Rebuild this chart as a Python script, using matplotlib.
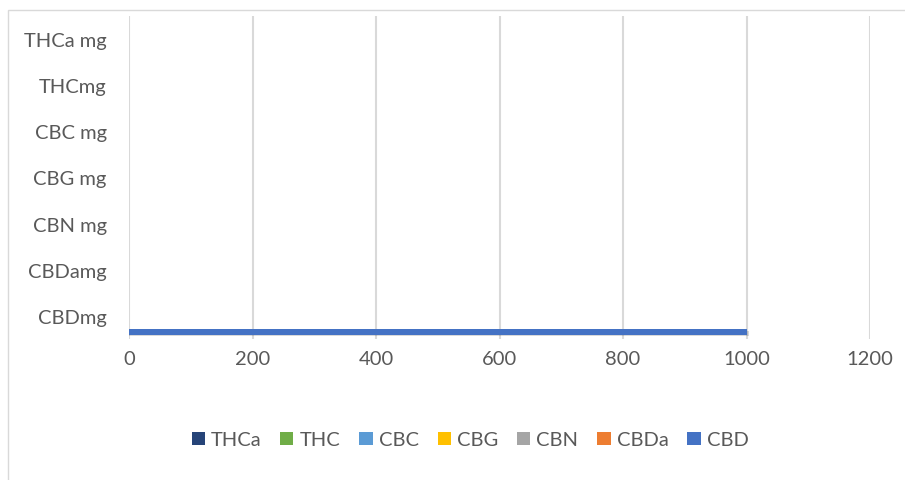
import matplotlib.pyplot as plt
import numpy as np
from matplotlib.patches import Rectangle

plt.rcParams["font.family"] = ["Lato", "DejaVu Sans"]

categories = ["CBDmg", "CBDamg", "CBN mg", "CBG mg", "CBC mg", "THCmg", "THCa mg"]
series = ["THCa", "THC", "CBC", "CBG", "CBN", "CBDa", "CBD"]
colors = ["#264478", "#70AD47", "#5B9BD5", "#FFC000", "#A5A5A5", "#ED7D31", "#4472C4"]
# values per series, one entry per category (bottom to top)
values = {
    "THCa": [0, 0, 0, 0, 0, 0, 0],
    "THC": [0, 0, 0, 0, 0, 0, 0],
    "CBC": [0, 0, 0, 0, 0, 0, 0],
    "CBG": [0, 0, 0, 0, 0, 0, 0],
    "CBN": [0, 0, 0, 0, 0, 0, 0],
    "CBDa": [0, 0, 0, 0, 0, 0, 0],
    "CBD": [1000, 0, 0, 0, 0, 0, 0],
}
xticks = [0, 200, 400, 600, 800, 1000, 1200]

W, H = 905, 481
fig = plt.figure(figsize=(W / 100, H / 100), dpi=100)
ax = fig.add_axes([129 / W, 1 - 340 / H, (870 - 129) / W, (340 - 17) / H])

y = np.arange(len(categories))
h = 0.115
n = len(series)
for i, s in enumerate(series):
    # first series on top of the group, last at the bottom (Excel style)
    off = (n - 1 - i - (n - 1) / 2) * h
    v = np.array(values[s])
    nz = v > 0
    # soft shadow under the visible bars
    ax.barh(y[nz] + off - 0.035, v[nz] + 4, height=h, color="#000000", alpha=0.15,
            zorder=2, linewidth=0)
    ax.barh(y + off, v, height=h, color=colors[i], zorder=3, label=s, linewidth=0)

ax.set_xlim(0, 1200)
ax.set_ylim(-0.5, len(categories) - 0.5)
ax.set_xticks(xticks)
ax.set_yticks(y)
ax.set_yticklabels(categories)
ax.xaxis.grid(True, color="#D9D9D9", linewidth=1.5, zorder=0)
ax.set_axisbelow(True)
for sp in ax.spines.values():
    sp.set_visible(False)
ax.tick_params(axis="both", length=0, labelsize=14.5, colors="#595959")
ax.tick_params(axis="x", pad=8)
ax.tick_params(axis="y", pad=16)

handles, labels = ax.get_legend_handles_labels()
fig.legend(handles, labels, loc="center", bbox_to_anchor=(470 / W, 1 - 441 / H),
           ncol=n, frameon=False, fontsize=14.5, labelcolor="#595959",
           handlelength=0.65, handleheight=0.65, handletextpad=0.3, columnspacing=0.95)

fig.patches.append(Rectangle((8 / W, -0.1), 1.2, 1 - 11 / H + 0.1, transform=fig.transFigure,
                             fill=False, edgecolor="#D9D9D9", linewidth=1))

fig.savefig("out.png", dpi=100)
